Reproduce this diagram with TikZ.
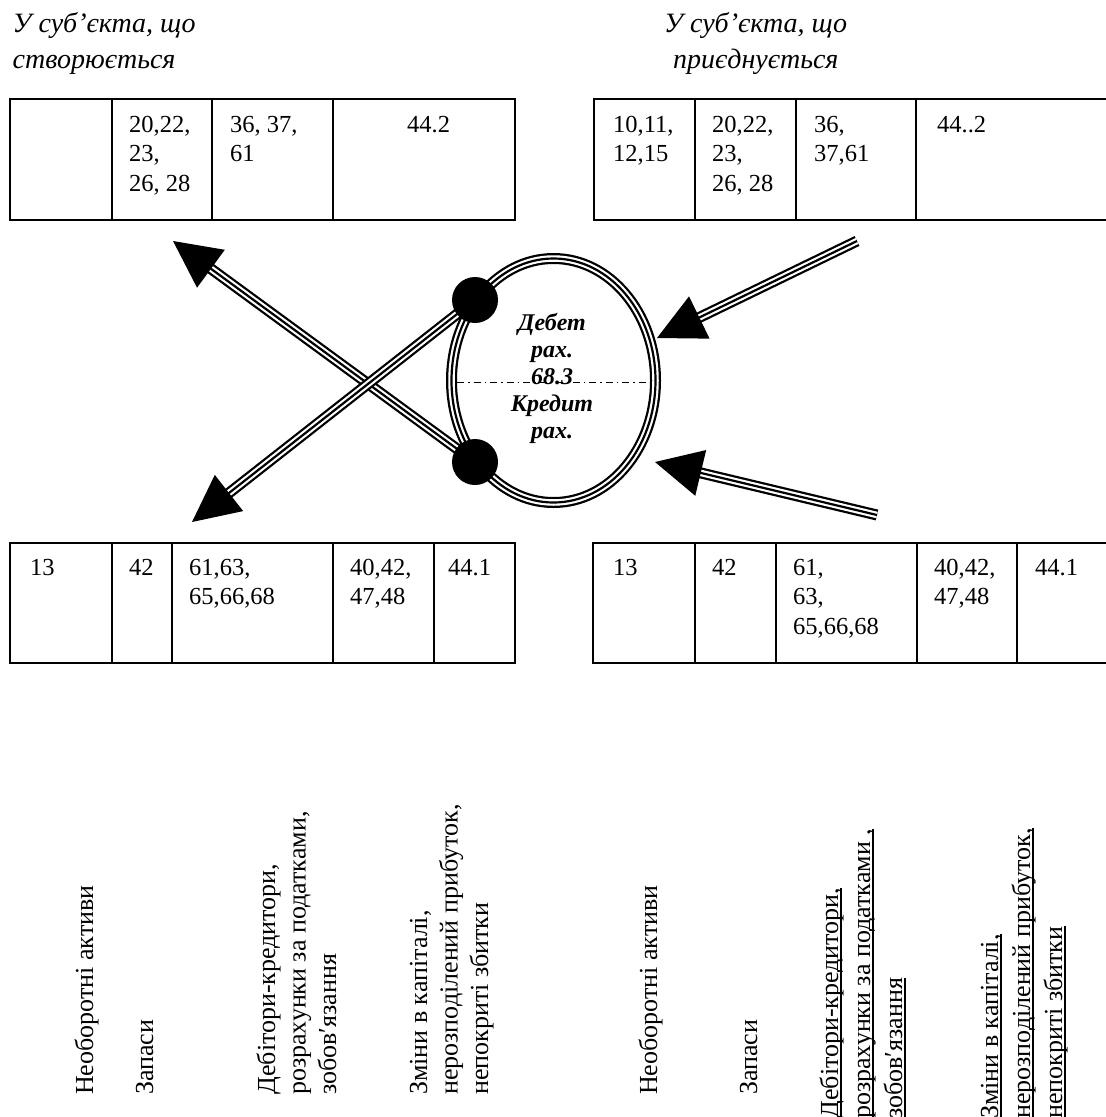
\documentclass[tikz,border=0pt]{standalone}
\usepackage{fontspec}
\setmainfont{Liberation Serif}
\usetikzlibrary{calc,backgrounds}
\newcommand\st{\rule{0pt}{21pt}}
\newcommand\stc{\rule{0pt}{19pt}}
\newcommand\ulx[1]{\setbox0=\hbox{#1}\rlap{\rule[-3.5pt]{\wd0}{1.6pt}}\box0}
\begin{document}
\begin{tikzpicture}[x=1pt,y=-1pt,
  cell/.style={line width=1.5pt},
  tnum/.style={anchor=north west,inner sep=0pt,align=left,font=\fontsize{24.5}{29.5}\selectfont},
  ttl/.style={anchor=north west,inner sep=0pt,font=\fontsize{28}{32}\selectfont\itshape},
  vtxt/.style={rotate=90,anchor=north west,inner sep=0pt,align=left,font=\fontsize{26}{30.5}\selectfont},
  vtxtu/.style={rotate=90,anchor=north west,inner sep=0pt,align=left,font=\fontsize{26}{32}\selectfont},
  tri/.style={line width=11pt,postaction={draw=white,line width=6.5pt},postaction={draw=black,line width=2.2pt}},
  dot/.style={circle,fill=black,minimum size=46pt,inner sep=0pt},
  ctext/.style={anchor=north,inner sep=0pt,align=center,font=\fontsize{24}{27}\selectfont\bfseries\itshape},
]
\clip (0,0) rectangle (1106,1117);

% titles
\node[ttl] (tl1) at (12.5,11) {\st У суб’єкта, що};
\node[ttl] (tl2) at (12.5,47) {\st створюється};
\node[ttl] (tr1) at (664,11) {\st У суб’єкта, що};
\node[ttl] (tr2) at (673,47) {\st приєднується};

% top-left table
\draw[cell] (10,99) rectangle (515,220);
\draw[cell] (112,99) -- (112,220) (212,99) -- (212,220) (333,99) -- (333,220);
\node[tnum] (a2) at (129,111) {\st 20,22,\\23,\\26, 28};
\node[tnum] (a3) at (230,111) {\st 36, 37,\\61};
\node[tnum] (a4) at (407,111) {\st 44.2};

% top-right table
\draw[cell] (594,99) rectangle (1120,220);
\draw[cell] (695,99) -- (695,220) (796,99) -- (796,220) (916,99) -- (916,220);
\node[tnum] (b1) at (613,111) {\st 10,11,\\12,15};
\node[tnum] (b2) at (712,111) {\st 20,22,\\23,\\26, 28};
\node[tnum] (b3) at (814,111) {\st 36,\\37,61};
\node[tnum] (b4) at (937,111) {\st 44..2};

% bottom-left table
\draw[cell] (10,543) rectangle (515,663);
\draw[cell] (112,543) -- (112,663) (172,543) -- (172,663) (333,543) -- (333,663) (434,543) -- (434,663);
\node[tnum] (c1) at (30,554) {\st 13};
\node[tnum] (c2) at (129,554) {\st 42};
\node[tnum] (c3) at (189,554) {\st 61,63,\\65,66,68};
\node[tnum] (c4) at (350,554) {\st 40,42,\\47,48};
\node[tnum] (c5) at (448,554) {\st 44.1};

% bottom-right table
\draw[cell] (593,543) rectangle (1120,663);
\draw[cell] (695,543) -- (695,663) (776,543) -- (776,663) (917,543) -- (917,663) (1017,543) -- (1017,663);
\node[tnum] (d1) at (613,554) {\st 13};
\node[tnum] (d2) at (712,554) {\st 42};
\node[tnum] (d3) at (793,554) {\st 61,\\63,\\65,66,68};
\node[tnum] (d4) at (934,554) {\st 40,42,\\47,48};
\node[tnum] (d5) at (1035,554) {\st 44.1};

% central account
\node[dot] (D1) at (475,300) {};
\node[dot] (D2) at (475,462) {};
\coordinate (T1) at (173,241);
\coordinate (T2) at (192,522);
\coordinate (T3) at (657,338);
\coordinate (T4) at (655,462);
\coordinate (R3) at (857,241);
\coordinate (R4) at (877,515);
\coordinate (B1) at ($(T1)!47pt!(D2)$);
\coordinate (B2) at ($(T2)!47pt!(D1)$);
\coordinate (B3) at ($(T3)!47pt!(R3)$);
\coordinate (B4) at ($(T4)!47pt!(R4)$);
\coordinate (S1) at ($(T1)!38pt!(D2)$);
\coordinate (S2) at ($(T2)!38pt!(D1)$);
\coordinate (S3) at ($(T3)!38pt!(R3)$);
\coordinate (S4) at ($(T4)!38pt!(R4)$);

\begin{pgfonlayer}{background}
\draw[tri] (553.5,380.5) ellipse [x radius=102, y radius=122];
\draw[tri] (D2.center) -- (S1);
\draw[tri] (D1.center) -- (S2);
\draw[tri] (R3) -- (S3);
\draw[tri] (R4) -- (S4);
\end{pgfonlayer}

\fill (T1) -- ($(B1)!23.5pt!90:(T1)$) -- ($(B1)!23.5pt!-90:(T1)$) -- cycle;
\fill (T2) -- ($(B2)!23pt!90:(T2)$) -- ($(B2)!23pt!-90:(T2)$) -- cycle;
\fill (T3) -- ($(B3)!23.5pt!90:(T3)$) -- ($(B3)!23.5pt!-90:(T3)$) -- cycle;
\fill (T4) -- ($(B4)!23.5pt!90:(T4)$) -- ($(B4)!23.5pt!-90:(T4)$) -- cycle;

\draw[line width=0.9pt, dash pattern=on 7pt off 4pt on 1.5pt off 4pt] (457,382) -- (652,382);
\node[ctext] (acc) at (552,311) {\stc Дебет\\рах.\\68.3\\Кредит\\рах.};

% vertical captions left
\node[vtxt] (v1) at (72,1095) {\st Необоротні активи};
\node[vtxt] (v2) at (132,1095) {\st Запаси};
\node[vtxt] (v3) at (254,1095) {\st Дебітори-кредитори,\\розрахунки за податками,\\зобов′язання};
\node[vtxt] (v4) at (406,1095) {\st Зміни в капіталі,\\нерозподілений прибуток,\\непокриті збитки};

% vertical captions right
\node[vtxt] (w1) at (636,1095) {\st Необоротні активи};
\node[vtxt] (w2) at (736,1095) {\st Запаси};
\node[vtxtu] (w3) at (817,1119) {\st\ulx{Дебітори-кредитори,}\\\ulx{розрахунки за податками ,}\\\ulx{зобов′язання}};
\node[vtxtu] (w4) at (977,1119) {\st\ulx{Зміни в капіталі,}\\\ulx{нерозподілений прибуток,}\\\ulx{непокриті збитки}};
\end{tikzpicture}
\end{document}
